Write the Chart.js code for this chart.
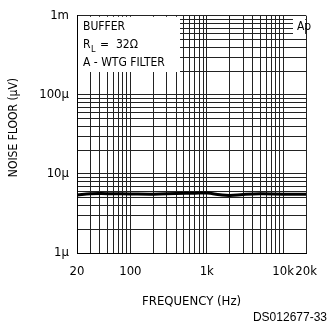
<!DOCTYPE html>
<html>
<head>
<meta charset="utf-8">
<script src="https://cdn.jsdelivr.net/npm/chart.js@4"></script>
<style>
  html, body { margin: 0; padding: 0; background: #fff; }
  canvas { display: block; }
</style>
</head>
<body>
<canvas id="chart" width="328" height="327"></canvas>
<script>
// Noise floor vs frequency, buffer into 32 ohm, A-weighted (values in µV)
const frequencies = [20, 30, 40, 60, 100, 200, 400, 700, 1000, 1500, 2000, 3000, 5000, 10000, 20000];
const noiseFloor  = [5.4, 5.6, 5.65, 5.62, 5.58, 5.55, 5.65, 5.7, 5.72, 5.45, 5.35, 5.5, 5.6, 5.55, 5.55];

const xTickValues = [20, 100, 1000, 10000, 20000];
const xTickLabels = ['20', '100', '1k', '10k', '20k'];
const yTickValues = [1, 10, 100, 1000];
const yTickLabels = ['1µ', '10µ', '100µ', '1m'];

const noteLines = ['BUFFER', '=  32Ω', 'A - WTG FILTER'];
const cornerTag = 'Ap';
const docId = 'DS012677-33';

const COND = '"DejaVu Sans Condensed", "DejaVu Sans", sans-serif';

// log-cycle grid: 1..9 within every decade
function decadeGrid(min, max) {
  const out = [];
  for (let d = 1; d <= max; d *= 10) {
    for (let k = 1; k <= 9; k++) {
      const v = k * d;
      if (v >= min - 1e-9 && v <= max + 1e-9) out.push(v);
    }
  }
  return out;
}
const xGrid = decadeGrid(20, 20000);
const yGrid = decadeGrid(1, 1000);

// unlabeled grid ticks get an empty string so their grid line stays
function labelFor(v, values, labels) {
  for (let i = 0; i < values.length; i++) {
    if (Math.abs(v / values[i] - 1) < 1e-6) return labels[i];
  }
  return '';
}

const notesPlugin = {
  id: 'notes',
  afterDraw(chart) {
    const ctx = chart.ctx;
    const a = chart.chartArea;
    ctx.save();
    // condition box, upper left
    ctx.fillStyle = '#fff';
    ctx.fillRect(a.left + 1, a.top + 1, 180 - a.left - 1, 72 - a.top - 1);
    // tag box, upper right
    ctx.fillRect(293, a.top + 1, a.right - 293 - 1, 35 - a.top - 1);

    ctx.fillStyle = '#000';
    ctx.textBaseline = 'alphabetic';
    ctx.textAlign = 'left';
    ctx.font = '12px ' + COND;
    ctx.fillText(noteLines[0], 83, 30);
    // R with subscript L
    ctx.fillText('R', 83, 48);
    ctx.font = '9px ' + COND;
    ctx.fillText('L', 91, 52);
    ctx.font = '12px ' + COND;
    ctx.fillText(noteLines[1], 100, 48);
    ctx.fillText(noteLines[2], 83, 66);

    ctx.textAlign = 'center';
    ctx.fillText(cornerTag, 304, 30);

    ctx.textAlign = 'right';
    ctx.font = '12px "Liberation Sans", Arial, sans-serif';
    ctx.fillText(docId, 327, 321);
    ctx.restore();
  }
};

new Chart(document.getElementById('chart'), {
  type: 'line',
  data: {
    labels: frequencies,
    datasets: [{
      data: frequencies.map((f, i) => ({ x: f, y: noiseFloor[i] })),
      borderColor: '#000',
      borderWidth: 3,
      pointRadius: 0,
      tension: 0.4,
      fill: false
    }]
  },
  options: {
    responsive: false,
    devicePixelRatio: 1,
    animation: false,
    layout: { padding: { top: 15, right: 13, left: 0, bottom: 0 } },
    plugins: { legend: { display: false }, tooltip: { enabled: false } },
    scales: {
      x: {
        type: 'logarithmic',
        min: 20, max: 20000,
        afterBuildTicks: s => { s.ticks = xGrid.map(v => ({ value: v })); },
        afterFit: s => { s.height = 74; },
        grid: { color: '#222', lineWidth: 1, drawTicks: false },
        border: { color: '#000', width: 1 },
        ticks: {
          autoSkip: false, maxRotation: 0, minRotation: 0, padding: 11,
          color: '#000', font: { family: COND, size: 13 },
          callback: v => labelFor(v, xTickValues, xTickLabels)
        },
        title: {
          display: true, text: 'FREQUENCY (Hz)', color: '#000',
          font: { family: COND, size: 13 }, padding: { top: 0, bottom: 18 }
        }
      },
      y: {
        type: 'logarithmic',
        min: 1, max: 1000,
        afterBuildTicks: s => { s.ticks = yGrid.map(v => ({ value: v })); },
        afterFit: s => { s.width = 77; },
        grid: { color: '#222', lineWidth: 1, drawTicks: false },
        border: { color: '#000', width: 1 },
        ticks: {
          autoSkip: false, padding: 8,
          color: '#000', font: { family: COND, size: 13 },
          callback: v => labelFor(v, yTickValues, yTickLabels)
        },
        title: {
          display: true, text: '    NOISE FLOOR (µV)', color: '#000',
          font: { family: COND, size: 12 }, padding: { top: 7, bottom: 0 }
        }
      }
    }
  },
  plugins: [notesPlugin]
});
</script>
</body>
</html>
